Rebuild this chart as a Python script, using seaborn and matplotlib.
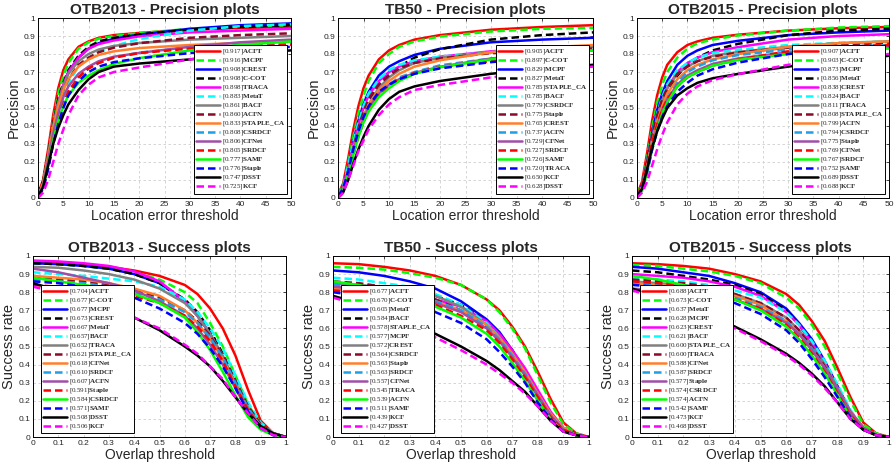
import matplotlib
matplotlib.use('Agg')
import matplotlib.pyplot as plt
import seaborn as sns
import pandas as pd

# umbrales de los ejes x
prec_x = [0, 1, 2, 3, 4, 5, 6, 8, 10, 12, 15, 20, 30, 40, 50]
succ_x = [0, 0.1, 0.2, 0.3, 0.4, 0.5, 0.6, 0.65, 0.7, 0.75, 0.8, 0.85, 0.9, 0.95, 1.0]

# ---------------- OTB2013 - Precision ----------------
otb13_prec_names = ['ACFT', 'MCPF', 'CREST', 'C-COT', 'TRACA', 'MetaT', 'BACF', 'ACFN',
                    'STAPLE_CA', 'CSRDCF', 'CFNet', 'SRDCF', 'SAMF', 'Staple', 'DSST', 'KCF']
otb13_prec_scores = [0.917, 0.916, 0.908, 0.908, 0.898, 0.883, 0.861, 0.860,
                     0.833, 0.808, 0.806, 0.805, 0.777, 0.776, 0.747, 0.725]
otb13_prec_curves = [
    [0.02, 0.10, 0.27, 0.46, 0.61, 0.71, 0.77, 0.84, 0.87, 0.89, 0.905, 0.917, 0.935, 0.945, 0.95],
    [0.01, 0.08, 0.24, 0.43, 0.58, 0.68, 0.75, 0.83, 0.865, 0.885, 0.90, 0.916, 0.94, 0.953, 0.96],
    [0.01, 0.07, 0.21, 0.38, 0.52, 0.62, 0.70, 0.78, 0.83, 0.86, 0.885, 0.908, 0.94, 0.96, 0.97],
    [0.02, 0.09, 0.24, 0.41, 0.55, 0.64, 0.71, 0.79, 0.84, 0.87, 0.89, 0.908, 0.935, 0.95, 0.96],
    [0.01, 0.07, 0.22, 0.39, 0.53, 0.63, 0.70, 0.78, 0.83, 0.855, 0.875, 0.898, 0.92, 0.93, 0.94],
    [0.01, 0.05, 0.17, 0.33, 0.47, 0.57, 0.64, 0.73, 0.78, 0.81, 0.845, 0.883, 0.93, 0.955, 0.965],
    [0.01, 0.08, 0.23, 0.40, 0.53, 0.62, 0.69, 0.76, 0.80, 0.825, 0.845, 0.861, 0.88, 0.89, 0.90],
    [0.01, 0.07, 0.21, 0.37, 0.50, 0.60, 0.66, 0.74, 0.78, 0.81, 0.835, 0.860, 0.89, 0.905, 0.915],
    [0.01, 0.08, 0.23, 0.39, 0.51, 0.60, 0.66, 0.73, 0.77, 0.795, 0.815, 0.833, 0.85, 0.862, 0.87],
    [0.01, 0.05, 0.17, 0.31, 0.43, 0.52, 0.59, 0.67, 0.72, 0.75, 0.78, 0.808, 0.835, 0.85, 0.86],
    [0.01, 0.07, 0.21, 0.36, 0.47, 0.56, 0.62, 0.69, 0.73, 0.76, 0.785, 0.806, 0.84, 0.865, 0.88],
    [0.01, 0.05, 0.17, 0.31, 0.43, 0.52, 0.59, 0.67, 0.72, 0.75, 0.78, 0.805, 0.83, 0.842, 0.85],
    [0.01, 0.06, 0.18, 0.32, 0.43, 0.51, 0.57, 0.64, 0.68, 0.71, 0.745, 0.777, 0.82, 0.85, 0.87],
    [0.01, 0.05, 0.16, 0.30, 0.41, 0.50, 0.57, 0.65, 0.70, 0.73, 0.755, 0.776, 0.805, 0.825, 0.84],
    [0.01, 0.06, 0.18, 0.30, 0.39, 0.46, 0.52, 0.60, 0.66, 0.70, 0.73, 0.747, 0.77, 0.80, 0.82],
    [0.00, 0.03, 0.10, 0.20, 0.30, 0.38, 0.46, 0.57, 0.63, 0.67, 0.70, 0.725, 0.77, 0.80, 0.82],
]

# ---------------- TB50 - Precision ----------------
tb50_prec_names = ['ACFT', 'C-COT', 'MCPF', 'MetaT', 'STAPLE_CA', 'BACF', 'CSRDCF', 'Staple',
                   'CREST', 'ACFN', 'CFNet', 'SRDCF', 'SAMF', 'TRACA', 'KCF', 'DSST']
tb50_prec_scores = [0.905, 0.897, 0.829, 0.827, 0.785, 0.785, 0.779, 0.775,
                    0.765, 0.737, 0.729, 0.727, 0.726, 0.720, 0.650, 0.628]
tb50_prec_curves = [
    [0.02, 0.08, 0.22, 0.38, 0.51, 0.61, 0.68, 0.77, 0.82, 0.85, 0.88, 0.905, 0.935, 0.95, 0.96],
    [0.02, 0.07, 0.19, 0.34, 0.47, 0.57, 0.65, 0.75, 0.80, 0.84, 0.87, 0.897, 0.925, 0.94, 0.945],
    [0.01, 0.06, 0.17, 0.31, 0.43, 0.52, 0.59, 0.68, 0.73, 0.76, 0.795, 0.829, 0.865, 0.88, 0.89],
    [0.01, 0.04, 0.13, 0.26, 0.37, 0.46, 0.53, 0.63, 0.69, 0.73, 0.78, 0.827, 0.88, 0.905, 0.92],
    [0.01, 0.06, 0.17, 0.30, 0.41, 0.50, 0.57, 0.65, 0.70, 0.73, 0.76, 0.785, 0.815, 0.83, 0.84],
    [0.01, 0.06, 0.18, 0.31, 0.42, 0.51, 0.58, 0.66, 0.71, 0.74, 0.765, 0.785, 0.81, 0.822, 0.83],
    [0.01, 0.04, 0.13, 0.25, 0.36, 0.45, 0.52, 0.61, 0.67, 0.71, 0.75, 0.779, 0.81, 0.83, 0.84],
    [0.01, 0.05, 0.15, 0.28, 0.39, 0.48, 0.55, 0.63, 0.68, 0.72, 0.75, 0.775, 0.805, 0.82, 0.83],
    [0.01, 0.05, 0.15, 0.27, 0.37, 0.45, 0.52, 0.60, 0.65, 0.69, 0.73, 0.765, 0.81, 0.835, 0.85],
    [0.01, 0.05, 0.14, 0.25, 0.35, 0.43, 0.49, 0.57, 0.63, 0.67, 0.70, 0.737, 0.775, 0.795, 0.81],
    [0.01, 0.05, 0.15, 0.26, 0.36, 0.44, 0.50, 0.58, 0.63, 0.66, 0.695, 0.729, 0.775, 0.80, 0.82],
    [0.01, 0.04, 0.13, 0.24, 0.34, 0.42, 0.49, 0.57, 0.62, 0.66, 0.695, 0.727, 0.76, 0.78, 0.79],
    [0.01, 0.04, 0.13, 0.24, 0.34, 0.42, 0.48, 0.56, 0.61, 0.65, 0.69, 0.726, 0.77, 0.80, 0.82],
    [0.01, 0.05, 0.15, 0.27, 0.37, 0.45, 0.51, 0.59, 0.63, 0.66, 0.69, 0.720, 0.755, 0.775, 0.79],
    [0.00, 0.03, 0.10, 0.19, 0.27, 0.34, 0.40, 0.49, 0.55, 0.59, 0.62, 0.650, 0.69, 0.72, 0.74],
    [0.00, 0.03, 0.10, 0.18, 0.26, 0.32, 0.38, 0.46, 0.52, 0.56, 0.60, 0.628, 0.67, 0.70, 0.73],
]

# ---------------- OTB2015 - Precision ----------------
otb15_prec_names = ['ACFT', 'C-COT', 'MCPF', 'MetaT', 'CREST', 'BACF', 'TRACA', 'STAPLE_CA',
                    'ACFN', 'CSRDCF', 'Staple', 'CFNet', 'SRDCF', 'SAMF', 'DSST', 'KCF']
otb15_prec_scores = [0.907, 0.903, 0.873, 0.856, 0.838, 0.824, 0.811, 0.808,
                     0.799, 0.794, 0.775, 0.769, 0.767, 0.752, 0.689, 0.688]
otb15_prec_curves = [
    [0.02, 0.09, 0.25, 0.43, 0.57, 0.67, 0.74, 0.81, 0.85, 0.87, 0.89, 0.907, 0.93, 0.943, 0.95],
    [0.02, 0.08, 0.22, 0.39, 0.53, 0.63, 0.70, 0.78, 0.83, 0.86, 0.88, 0.903, 0.93, 0.947, 0.955],
    [0.01, 0.07, 0.20, 0.36, 0.49, 0.58, 0.65, 0.74, 0.79, 0.82, 0.85, 0.873, 0.905, 0.92, 0.93],
    [0.01, 0.05, 0.15, 0.29, 0.42, 0.51, 0.58, 0.68, 0.74, 0.78, 0.82, 0.856, 0.905, 0.93, 0.94],
    [0.01, 0.06, 0.18, 0.33, 0.45, 0.54, 0.61, 0.70, 0.75, 0.78, 0.81, 0.838, 0.88, 0.90, 0.91],
    [0.01, 0.07, 0.20, 0.35, 0.47, 0.56, 0.63, 0.71, 0.75, 0.78, 0.805, 0.824, 0.85, 0.862, 0.87],
    [0.01, 0.06, 0.18, 0.33, 0.45, 0.54, 0.61, 0.69, 0.73, 0.76, 0.79, 0.811, 0.84, 0.86, 0.87],
    [0.01, 0.07, 0.20, 0.35, 0.46, 0.55, 0.61, 0.69, 0.73, 0.76, 0.785, 0.808, 0.835, 0.85, 0.86],
    [0.01, 0.06, 0.17, 0.31, 0.42, 0.51, 0.58, 0.66, 0.71, 0.74, 0.77, 0.799, 0.84, 0.86, 0.87],
    [0.01, 0.04, 0.14, 0.27, 0.39, 0.48, 0.55, 0.64, 0.70, 0.73, 0.765, 0.794, 0.825, 0.84, 0.85],
    [0.01, 0.05, 0.16, 0.29, 0.40, 0.49, 0.55, 0.63, 0.68, 0.71, 0.745, 0.775, 0.81, 0.83, 0.84],
    [0.01, 0.06, 0.17, 0.31, 0.41, 0.49, 0.55, 0.62, 0.67, 0.70, 0.735, 0.769, 0.815, 0.84, 0.85],
    [0.01, 0.04, 0.14, 0.27, 0.38, 0.47, 0.53, 0.62, 0.67, 0.70, 0.735, 0.767, 0.80, 0.82, 0.83],
    [0.01, 0.05, 0.15, 0.27, 0.37, 0.45, 0.51, 0.59, 0.64, 0.68, 0.715, 0.752, 0.80, 0.825, 0.84],
    [0.01, 0.05, 0.16, 0.28, 0.37, 0.44, 0.50, 0.57, 0.61, 0.64, 0.665, 0.689, 0.73, 0.765, 0.79],
    [0.00, 0.03, 0.09, 0.18, 0.27, 0.35, 0.42, 0.52, 0.58, 0.62, 0.655, 0.688, 0.74, 0.775, 0.80],
]

# ---------------- OTB2013 - Success ----------------
otb13_succ_names = ['ACFT', 'C-COT', 'MCPF', 'CREST', 'MetaT', 'BACF', 'TRACA', 'STAPLE_CA',
                    'CFNet', 'SRDCF', 'ACFN', 'Staple', 'CSRDCF', 'SAMF', 'DSST', 'KCF']
otb13_succ_scores = [0.704, 0.677, 0.677, 0.673, 0.667, 0.657, 0.652, 0.621,
                     0.618, 0.610, 0.607, 0.591, 0.584, 0.571, 0.508, 0.506]
otb13_succ_curves = [
    [0.97, 0.965, 0.955, 0.94, 0.92, 0.89, 0.84, 0.79, 0.71, 0.60, 0.45, 0.26, 0.09, 0.02, 0.0],
    [0.96, 0.955, 0.945, 0.93, 0.91, 0.87, 0.80, 0.74, 0.63, 0.50, 0.34, 0.18, 0.07, 0.02, 0.0],
    [0.96, 0.955, 0.945, 0.93, 0.90, 0.85, 0.75, 0.67, 0.57, 0.44, 0.29, 0.15, 0.06, 0.02, 0.0],
    [0.96, 0.955, 0.945, 0.93, 0.90, 0.85, 0.76, 0.69, 0.59, 0.46, 0.31, 0.16, 0.06, 0.015, 0.0],
    [0.975, 0.97, 0.96, 0.945, 0.915, 0.86, 0.75, 0.67, 0.57, 0.44, 0.29, 0.15, 0.06, 0.02, 0.0],
    [0.91, 0.90, 0.89, 0.875, 0.86, 0.83, 0.76, 0.69, 0.60, 0.49, 0.34, 0.19, 0.08, 0.02, 0.0],
    [0.94, 0.935, 0.92, 0.90, 0.87, 0.82, 0.74, 0.67, 0.57, 0.45, 0.30, 0.16, 0.06, 0.02, 0.0],
    [0.88, 0.87, 0.86, 0.84, 0.81, 0.77, 0.70, 0.64, 0.56, 0.45, 0.31, 0.17, 0.07, 0.02, 0.0],
    [0.89, 0.88, 0.87, 0.85, 0.82, 0.78, 0.70, 0.63, 0.54, 0.43, 0.29, 0.15, 0.06, 0.02, 0.0],
    [0.87, 0.86, 0.85, 0.83, 0.80, 0.76, 0.69, 0.63, 0.55, 0.44, 0.30, 0.16, 0.06, 0.02, 0.0],
    [0.93, 0.91, 0.88, 0.85, 0.81, 0.75, 0.67, 0.60, 0.51, 0.40, 0.27, 0.14, 0.05, 0.01, 0.0],
    [0.84, 0.83, 0.82, 0.80, 0.78, 0.74, 0.67, 0.61, 0.53, 0.42, 0.28, 0.15, 0.05, 0.01, 0.0],
    [0.88, 0.86, 0.84, 0.82, 0.79, 0.74, 0.66, 0.58, 0.48, 0.36, 0.23, 0.11, 0.04, 0.01, 0.0],
    [0.86, 0.85, 0.83, 0.81, 0.77, 0.71, 0.63, 0.57, 0.49, 0.39, 0.27, 0.14, 0.05, 0.01, 0.0],
    [0.85, 0.81, 0.77, 0.71, 0.66, 0.59, 0.50, 0.45, 0.39, 0.31, 0.22, 0.13, 0.06, 0.02, 0.0],
    [0.83, 0.80, 0.76, 0.71, 0.66, 0.60, 0.51, 0.46, 0.39, 0.32, 0.22, 0.13, 0.05, 0.01, 0.0],
]

# ---------------- TB50 - Success ----------------
tb50_succ_names = ['ACFT', 'C-COT', 'MetaT', 'BACF', 'STAPLE_CA', 'MCPF', 'CREST', 'CSRDCF',
                   'Staple', 'SRDCF', 'CFNet', 'TRACA', 'ACFN', 'SAMF', 'KCF', 'DSST']
tb50_succ_scores = [0.677, 0.670, 0.605, 0.584, 0.578, 0.577, 0.572, 0.564,
                    0.563, 0.563, 0.557, 0.545, 0.539, 0.511, 0.439, 0.427]
tb50_succ_curves = [
    [0.96, 0.955, 0.94, 0.92, 0.89, 0.84, 0.76, 0.70, 0.61, 0.50, 0.36, 0.21, 0.08, 0.02, 0.0],
    [0.94, 0.935, 0.925, 0.905, 0.88, 0.84, 0.76, 0.69, 0.60, 0.49, 0.34, 0.19, 0.07, 0.02, 0.0],
    [0.92, 0.91, 0.89, 0.86, 0.82, 0.75, 0.65, 0.58, 0.48, 0.37, 0.24, 0.12, 0.04, 0.01, 0.0],
    [0.85, 0.84, 0.83, 0.81, 0.78, 0.73, 0.64, 0.57, 0.48, 0.37, 0.25, 0.13, 0.05, 0.01, 0.0],
    [0.83, 0.82, 0.81, 0.79, 0.76, 0.72, 0.64, 0.57, 0.48, 0.38, 0.26, 0.14, 0.05, 0.01, 0.0],
    [0.88, 0.87, 0.85, 0.83, 0.79, 0.73, 0.63, 0.55, 0.45, 0.34, 0.22, 0.11, 0.04, 0.01, 0.0],
    [0.85, 0.84, 0.83, 0.81, 0.78, 0.72, 0.62, 0.55, 0.46, 0.35, 0.23, 0.11, 0.04, 0.01, 0.0],
    [0.86, 0.85, 0.83, 0.80, 0.76, 0.70, 0.61, 0.54, 0.45, 0.35, 0.23, 0.12, 0.04, 0.01, 0.0],
    [0.82, 0.81, 0.80, 0.78, 0.75, 0.70, 0.62, 0.55, 0.46, 0.36, 0.24, 0.13, 0.05, 0.01, 0.0],
    [0.84, 0.83, 0.81, 0.79, 0.75, 0.70, 0.61, 0.54, 0.45, 0.35, 0.23, 0.12, 0.04, 0.01, 0.0],
    [0.83, 0.82, 0.80, 0.78, 0.74, 0.69, 0.60, 0.53, 0.44, 0.34, 0.23, 0.12, 0.04, 0.01, 0.0],
    [0.81, 0.80, 0.78, 0.76, 0.73, 0.67, 0.59, 0.52, 0.43, 0.33, 0.22, 0.11, 0.04, 0.01, 0.0],
    [0.86, 0.84, 0.81, 0.77, 0.72, 0.66, 0.57, 0.50, 0.41, 0.31, 0.20, 0.10, 0.03, 0.01, 0.0],
    [0.80, 0.78, 0.76, 0.73, 0.69, 0.63, 0.54, 0.47, 0.39, 0.30, 0.19, 0.10, 0.03, 0.01, 0.0],
    [0.78, 0.74, 0.69, 0.63, 0.57, 0.50, 0.42, 0.37, 0.31, 0.25, 0.17, 0.09, 0.03, 0.01, 0.0],
    [0.77, 0.73, 0.68, 0.62, 0.55, 0.48, 0.40, 0.35, 0.30, 0.24, 0.17, 0.09, 0.03, 0.01, 0.0],
]

# ---------------- OTB2015 - Success ----------------
otb15_succ_names = ['ACFT', 'C-COT', 'MetaT', 'MCPF', 'CREST', 'BACF', 'STAPLE_CA', 'TRACA',
                    'CFNet', 'SRDCF', 'Staple', 'CSRDCF', 'ACFN', 'SAMF', 'KCF', 'DSST']
otb15_succ_scores = [0.688, 0.673, 0.637, 0.628, 0.623, 0.621, 0.600, 0.600,
                     0.588, 0.587, 0.577, 0.574, 0.574, 0.542, 0.473, 0.468]
otb15_succ_curves = [
    [0.96, 0.955, 0.945, 0.93, 0.90, 0.86, 0.79, 0.73, 0.64, 0.53, 0.38, 0.22, 0.08, 0.02, 0.0],
    [0.95, 0.945, 0.93, 0.915, 0.89, 0.85, 0.77, 0.71, 0.62, 0.50, 0.35, 0.20, 0.07, 0.02, 0.0],
    [0.94, 0.93, 0.91, 0.89, 0.85, 0.80, 0.71, 0.63, 0.54, 0.42, 0.28, 0.14, 0.05, 0.01, 0.0],
    [0.92, 0.91, 0.89, 0.87, 0.84, 0.79, 0.70, 0.62, 0.52, 0.40, 0.26, 0.13, 0.05, 0.01, 0.0],
    [0.90, 0.89, 0.88, 0.86, 0.83, 0.78, 0.69, 0.62, 0.52, 0.41, 0.27, 0.14, 0.05, 0.01, 0.0],
    [0.88, 0.87, 0.86, 0.84, 0.81, 0.77, 0.69, 0.62, 0.53, 0.42, 0.29, 0.15, 0.05, 0.01, 0.0],
    [0.86, 0.85, 0.84, 0.82, 0.79, 0.74, 0.66, 0.59, 0.50, 0.40, 0.27, 0.14, 0.05, 0.01, 0.0],
    [0.87, 0.86, 0.85, 0.83, 0.79, 0.74, 0.66, 0.59, 0.50, 0.39, 0.26, 0.13, 0.05, 0.01, 0.0],
    [0.85, 0.84, 0.83, 0.81, 0.78, 0.73, 0.64, 0.57, 0.48, 0.38, 0.26, 0.14, 0.05, 0.01, 0.0],
    [0.85, 0.84, 0.82, 0.80, 0.77, 0.72, 0.64, 0.57, 0.49, 0.38, 0.26, 0.13, 0.05, 0.01, 0.0],
    [0.82, 0.81, 0.80, 0.78, 0.76, 0.71, 0.63, 0.57, 0.48, 0.38, 0.26, 0.14, 0.05, 0.01, 0.0],
    [0.86, 0.85, 0.83, 0.80, 0.76, 0.71, 0.62, 0.55, 0.46, 0.36, 0.24, 0.12, 0.04, 0.01, 0.0],
    [0.89, 0.87, 0.84, 0.80, 0.76, 0.70, 0.61, 0.54, 0.45, 0.35, 0.23, 0.11, 0.04, 0.01, 0.0],
    [0.84, 0.83, 0.81, 0.78, 0.74, 0.68, 0.59, 0.52, 0.43, 0.33, 0.22, 0.11, 0.04, 0.01, 0.0],
    [0.82, 0.78, 0.73, 0.67, 0.61, 0.54, 0.46, 0.41, 0.35, 0.28, 0.19, 0.10, 0.04, 0.01, 0.0],
    [0.81, 0.77, 0.72, 0.66, 0.60, 0.53, 0.45, 0.40, 0.34, 0.27, 0.19, 0.10, 0.04, 0.01, 0.0],
]

# estilo por posicion en el ranking (igual en todos los paneles)
colores = ['#FF0000', '#00FF00', '#0000FF', '#000000', '#FF00FF', '#00FFFF', '#808080', '#8B0A2A',
           '#FF7F2A', '#1E9FE6', '#A04EA6', '#FF0000', '#00FF00', '#0000FF', '#000000', '#FF00FF']


def etiqueta(valor, nombre):
    nombre = nombre.replace('_', r'\_').replace('-', r'}\text{-}\mathbf{')
    return r'$\mathrm{[%.3f]}\mathbf{%s}$' % (valor, nombre)


def dibujar(ax, xs, names, scores, curves, titulo, xlabel, ylabel, xmax, xticks, loc, anchor):
    for i, (nombre, valor, curva) in enumerate(zip(names, scores, curves)):
        df = pd.DataFrame({'x': xs, 'y': curva})
        ls = '-' if i % 2 == 0 else (0, (3, 1.6))
        sns.lineplot(data=df, x='x', y='y', ax=ax, color=colores[i], linewidth=1.8,
                     linestyle=ls, errorbar=None, label=etiqueta(valor, nombre))
    ax.set_xlim(0, xmax)
    ax.set_ylim(0, 1)
    ax.set_xticks(xticks)
    ax.set_yticks([i / 10 for i in range(11)])
    ax.set_xticklabels([('%g' % t) for t in xticks])
    ax.set_yticklabels([('%g' % (i / 10)) for i in range(11)])
    ax.grid(True, linestyle=(0, (3, 3)), color='#cfcfcf', linewidth=0.6)
    ax.tick_params(direction='in', length=2.5, width=0.6, labelsize=6, pad=2,
                   top=True, right=True)
    for s in ax.spines.values():
        s.set_linewidth(0.7)
        s.set_color('black')
    ax.set_title(titulo, fontsize=11, fontweight='bold', pad=3)
    ax.set_xlabel(xlabel, fontsize=10, labelpad=1)
    ax.set_ylabel(ylabel, fontsize=10.5, labelpad=2)
    leg = ax.legend(loc=loc, bbox_to_anchor=anchor, fontsize=5.0, labelspacing=0.0,
                    handlelength=3.5, handleheight=0.5, handletextpad=0.25, borderpad=0.3,
                    borderaxespad=0, frameon=True, fancybox=False, framealpha=1)
    leg.get_frame().set_edgecolor('black')
    leg.get_frame().set_linewidth(0.7)


sns.set_theme(style='white')
plt.rcParams['font.family'] = ['Liberation Sans', 'DejaVu Sans']
plt.rcParams['mathtext.fontset'] = 'custom'
plt.rcParams['mathtext.rm'] = 'Liberation Serif'
plt.rcParams['mathtext.bf'] = 'Liberation Serif:bold'
plt.rcParams['mathtext.it'] = 'Liberation Serif:italic'
plt.rcParams['axes.axisbelow'] = True

W, H = 896, 468
fig = plt.figure(figsize=(W / 100, H / 100), dpi=100)


def ejes(x0, x1, y0, y1):
    return fig.add_axes([x0 / W, 1 - y1 / H, (x1 - x0) / W, (y1 - y0) / H])


top = [(38, 291), (338, 593), (637, 889)]
bot = [(33, 286), (333, 589), (632, 889)]
paneles_prec = [
    ('OTB2013 - Precision plots', otb13_prec_names, otb13_prec_scores, otb13_prec_curves),
    ('TB50 - Precision plots', tb50_prec_names, tb50_prec_scores, tb50_prec_curves),
    ('OTB2015 - Precision plots', otb15_prec_names, otb15_prec_scores, otb15_prec_curves),
]
paneles_succ = [
    ('OTB2013 - Success plots', otb13_succ_names, otb13_succ_scores, otb13_succ_curves),
    ('TB50 - Success plots', tb50_succ_names, tb50_succ_scores, tb50_succ_curves),
    ('OTB2015 - Success plots', otb15_succ_names, otb15_succ_scores, otb15_succ_curves),
]

for (x0, x1), (titulo, n, s, c) in zip(top, paneles_prec):
    ax = ejes(x0, x1, 18, 198)
    dibujar(ax, prec_x, n, s, c, titulo, 'Location error threshold', 'Precision',
            50, list(range(0, 51, 5)), 'lower right', (0.985, 0.025))

for (x0, x1), (titulo, n, s, c) in zip(bot, paneles_succ):
    ax = ejes(x0, x1, 256, 437)
    dibujar(ax, succ_x, n, s, c, titulo, 'Overlap threshold', 'Success rate',
            1, [i / 10 for i in range(11)], 'lower left', (0.03, 0.02))

fig.savefig('out.png', dpi=100)
